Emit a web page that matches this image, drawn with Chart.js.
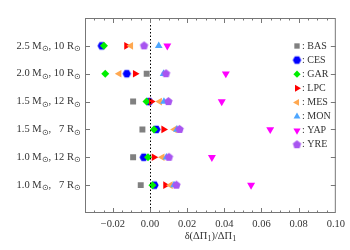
<!DOCTYPE html>
<html><head><meta charset="utf-8">
<script src="https://cdn.jsdelivr.net/npm/chart.js@4/dist/chart.umd.min.js"></script>
<style>html,body{margin:0;padding:0;background:#fff}</style>
</head><body>
<canvas id="c" width="350" height="250"></canvas>
<script>
// ---- data ----
const rowMass = ['2.5', '2.0', '1.5', '1.5', '1.0', '1.0'];
const rowRadius = ['10', '10', '12', '7', '12', '7'];
const rowY = [6, 5, 4, 3, 2, 1];
const xTickValues = [-0.02, 0, 0.02, 0.04, 0.06, 0.08, 0.10];
const seriesNames = ['BAS', 'CES', 'GAR', 'LPC', 'MES', 'MON', 'YAP', 'YRE'];
const BAS = [null, -0.0018, -0.0091, -0.0041, -0.0091, -0.0050];
const CES = [-0.0260, -0.0125, -0.0005, 0.0034, -0.0034, 0.0024];
const GAR = [-0.0248, -0.0241, -0.0019, 0.0021, -0.0011, 0.0013];
const LPC = [-0.0127, -0.0080, 0.0007, 0.0073, 0.0021, 0.0083];
const MES = [-0.0103, -0.0166, 0.0052, 0.0132, 0.0066, 0.0110];
const MON = [0.0047, 0.0073, 0.0075, 0.0145, 0.0088, 0.0129];
const YAP = [0.0093, 0.0408, 0.0386, 0.0647, 0.0333, 0.0544];
const YRE = [-0.0032, 0.0086, 0.0099, 0.0159, 0.0102, 0.0142];
const seriesValues = [BAS, CES, GAR, LPC, MES, MON, YAP, YRE];

// ---- styles ----
const FONT = "'Liberation Serif', 'Times New Roman', serif";
const TEXT = '#333';
const colors = ['#808080', '#0000ff', '#00ee00', '#ff0000', '#ffa850', '#4da6ff', '#ff00ff', '#a855f0'];

function polyCanvas(n, r, color, rot) {
  const s = Math.ceil(2 * r + 2);
  const c = document.createElement('canvas');
  c.width = s; c.height = s;
  const g = c.getContext('2d');
  g.fillStyle = color;
  g.beginPath();
  for (let k = 0; k < n; k++) {
    const a = rot + k * 2 * Math.PI / n;
    const px = s / 2 + r * Math.sin(a), py = s / 2 - r * Math.cos(a);
    if (k === 0) g.moveTo(px, py); else g.lineTo(px, py);
  }
  g.closePath();
  g.fill();
  return c;
}

const markers = [
  { pointStyle: 'rect', radius: 4.2, rotation: 0 },
  { pointStyle: polyCanvas(6, 4.2, colors[1], Math.PI / 6), radius: 4.2, rotation: 0 },
  { pointStyle: 'rectRot', radius: 4.0, rotation: 0 },
  { pointStyle: 'triangle', radius: 4.4, rotation: 90 },
  { pointStyle: 'triangle', radius: 4.4, rotation: 270 },
  { pointStyle: 'triangle', radius: 4.4, rotation: 0 },
  { pointStyle: 'triangle', radius: 4.6, rotation: 180 },
  { pointStyle: polyCanvas(5, 4.4, colors[7], 0), radius: 4.4, rotation: 0 },
];

const datasets = seriesNames.map((name, i) => ({
  label: name,
  data: rowY.map((y, j) => ({ x: seriesValues[i][j], y: y })).filter(p => p.x !== null),
  backgroundColor: colors[i],
  borderColor: colors[i],
  pointBackgroundColor: colors[i],
  pointBorderColor: colors[i],
  pointBorderWidth: 0,
  pointStyle: markers[i].pointStyle,
  pointRadius: markers[i].radius,
  pointRotation: markers[i].rotation,
  showLine: false,
  order: seriesNames.length - i,
}));

const MAIN = '10.5px ' + FONT, SUB = '8px ' + FONT;

function drawSubLabel(ctx, parts, xRight, y) {
  let total = 0;
  parts.forEach(p => { ctx.font = p.sub ? SUB : MAIN; total += p.w !== undefined ? p.w : ctx.measureText(p.t).width; });
  let x = xRight - total;
  parts.forEach(p => {
    ctx.font = p.sub ? SUB : MAIN;
    const tw = ctx.measureText(p.t).width;
    const w = p.w !== undefined ? p.w : tw;
    ctx.textAlign = 'left';
    ctx.fillText(p.t, x + (w - tw), p.sub ? y + 3 : y);
    x += w;
  });
}

const framePlugin = {
  id: 'frame',
  afterDatasetsDraw(chart) {
    const { ctx, chartArea: a, scales: { x, y } } = chart;
    ctx.save();
    const x0 = Math.round(x.getPixelForValue(0)) + 0.5;
    ctx.strokeStyle = '#000';
    ctx.lineWidth = 1;
    ctx.setLineDash([1.5, 2]);
    ctx.beginPath(); ctx.moveTo(x0, a.top); ctx.lineTo(x0, a.bottom); ctx.stroke();
    ctx.setLineDash([]);
    ctx.strokeStyle = '#777';
    ctx.strokeRect(a.left + 0.5, a.top + 0.5, a.right - a.left - 1, a.bottom - a.top - 1);
    ctx.beginPath();
    for (let k = -7; k <= 20; k++) {
      const v = k * 0.005;
      const px = Math.round(x.getPixelForValue(v)) + 0.5;
      if (px <= a.left + 1 || px >= a.right - 1) continue;
      const len = (k % 4 === 0) ? 5 : 2.5;
      ctx.moveTo(px, a.bottom); ctx.lineTo(px, a.bottom - len);
      ctx.moveTo(px, a.top); ctx.lineTo(px, a.top + len);
    }
    rowY.forEach(v => {
      const py = Math.round(y.getPixelForValue(v)) + 0.5;
      ctx.moveTo(a.left, py); ctx.lineTo(a.left + 5, py);
      ctx.moveTo(a.right, py); ctx.lineTo(a.right - 5, py);
    });
    ctx.stroke();
    ctx.restore();
  },
  afterDraw(chart) {
    const { ctx, chartArea: a, scales: { x, y } } = chart;
    ctx.save();
    ctx.fillStyle = TEXT;
    ctx.textBaseline = 'middle';
    ctx.font = MAIN;
    const w2 = ctx.measureText('00').width;
    rowY.forEach((v, j) => {
      const py = y.getPixelForValue(v);
      drawSubLabel(ctx, [
        { t: rowMass[j] + ' M' }, { t: '\u2299', sub: true }, { t: ', ' },
        { t: rowRadius[j], w: w2 }, { t: ' R' }, { t: '\u2299', sub: true }
      ], a.left - 4, py);
    });
    const parts = [{ t: '\u03b4(\u0394\u03a0' }, { t: '1', sub: true }, { t: ')/\u0394\u03a0' }, { t: '1', sub: true }];
    let tw = 0;
    parts.forEach(p => { ctx.font = p.sub ? SUB : MAIN; tw += ctx.measureText(p.t).width; });
    drawSubLabel(ctx, parts, (a.left + a.right) / 2 + tw / 2, 236);
    const lx = 297, ly0 = 46, dy = 14.1;
    seriesNames.forEach((name, i) => {
      const ly = ly0 + i * dy;
      ctx.fillStyle = colors[i];
      ctx.strokeStyle = colors[i];
      if (Chart.helpers && Chart.helpers.drawPoint) {
        Chart.helpers.drawPoint(ctx, { pointStyle: markers[i].pointStyle, radius: markers[i].radius * 0.9, rotation: markers[i].rotation, borderWidth: 0 }, lx, ly);
      }
      ctx.fillStyle = TEXT;
      ctx.font = '10px ' + FONT;
      ctx.textAlign = 'left';
      ctx.fillText(': ' + name, lx + 5, ly);
    });
    ctx.restore();
  }
};

new Chart(document.getElementById('c'), {
  type: 'scatter',
  data: { datasets },
  options: {
    responsive: false,
    animation: false,
    devicePixelRatio: 1,
    layout: { padding: { left: 85, right: 12, top: 18, bottom: 0 } },
    plugins: { legend: { display: false }, tooltip: { enabled: false } },
    scales: {
      x: {
        type: 'linear', min: -0.035, max: 0.10,
        grid: { display: false, drawTicks: false }, border: { display: false },
        afterBuildTicks: s => { s.ticks = xTickValues.map(v => ({ value: v })); },
        afterFit: s => { s.height = 37; },
        ticks: {
          color: TEXT, padding: 5, maxRotation: 0, autoSkip: false,
          font: { family: FONT, size: 10.5 },
          callback: v => (v < 0 ? '\u2212' : '') + Math.abs(v).toFixed(2)
        }
      },
      y: { type: 'linear', min: 0, max: 7, display: false }
    }
  },
  plugins: [framePlugin]
});
</script>
</body></html>
